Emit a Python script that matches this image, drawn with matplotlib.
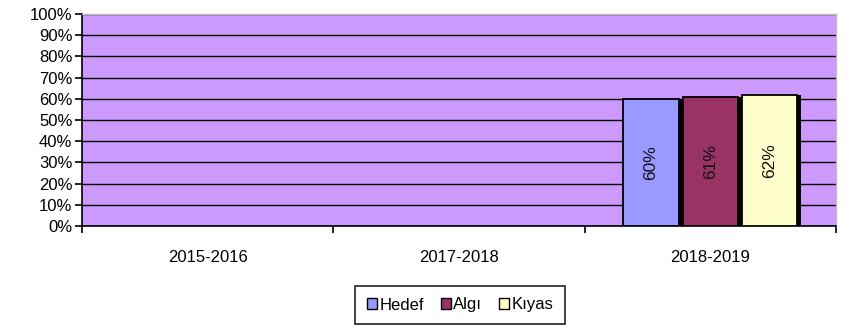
import matplotlib.pyplot as plt
import numpy as np

years = ['2015-2016', '2017-2018', '2018-2019']
series = ['Hedef', 'Algı', 'Kıyas']
colors = ['#9999FF', '#993366', '#FFFFCC']
hedef = [np.nan, np.nan, 60]
algi = [np.nan, np.nan, 61]
kiyas = [np.nan, np.nan, 62]
values = [hedef, algi, kiyas]

plt.rcParams['font.family'] = ['Liberation Sans', 'DejaVu Sans']

fig = plt.figure(figsize=(8.48, 3.28), dpi=100)
ax = fig.add_axes([82 / 848, 1 - 226 / 328, 754 / 848, 212 / 328])
ax.set_facecolor('#CC99FF')

x = np.arange(len(years))
w = 0.22
gap = 0.016
offsets = [-(w + gap), 0, w + gap]
for vals, off, col in zip(values, offsets, colors):
    for xi, v in zip(x, vals):
        if np.isnan(v):
            continue
        # drop shadow, then bar
        ax.bar(xi + off + 0.016, v, w, bottom=0, color='black', zorder=2)
        ax.bar(xi + off, v, w, color=col, edgecolor='black', linewidth=1.3, zorder=3)
        ax.text(xi + off, v / 2, f'{v:.0f}%', rotation=90, ha='center', va='center',
                fontsize=12.5, color='#111111', zorder=4)

ax.set_xlim(-0.5, len(years) - 0.5)
ax.set_ylim(0, 100)
ax.set_yticks(np.arange(0, 101, 10))
ax.set_yticklabels([f'{t}%' for t in range(0, 101, 10)], fontsize=12)
ax.yaxis.grid(True, color='black', linewidth=1.0, zorder=1)
ax.set_axisbelow(True)

ax.set_xticks(x)
ax.set_xticklabels(years, fontsize=12)
ax.set_xticks(np.arange(-0.5, len(years), 1), minor=True)
ax.tick_params(axis='x', which='major', length=0, pad=17)
ax.tick_params(axis='x', which='minor', length=5, width=1.2, color='black')
ax.tick_params(axis='y', length=5, width=1.2, color='black', pad=2)

for s in ['top', 'right']:
    ax.spines[s].set_color('#BBBBBB')
    ax.spines[s].set_linewidth(1)
for s in ['left', 'bottom']:
    ax.spines[s].set_color('black')
    ax.spines[s].set_linewidth(1.2)

handles = [plt.Rectangle((0, 0), 1, 1, facecolor=c, edgecolor='black', linewidth=1) for c in colors]
leg = fig.legend(handles, series, loc='center', bbox_to_anchor=(460 / 848, 1 - 305 / 328),
                 ncol=3, fontsize=12, frameon=True, fancybox=False, edgecolor='black',
                 handlelength=0.6, handleheight=0.6, handletextpad=0.15, columnspacing=1.0,
                 borderpad=0.7, borderaxespad=0)
leg.get_frame().set_linewidth(1.3)

fig.savefig('out.png', dpi=100)
